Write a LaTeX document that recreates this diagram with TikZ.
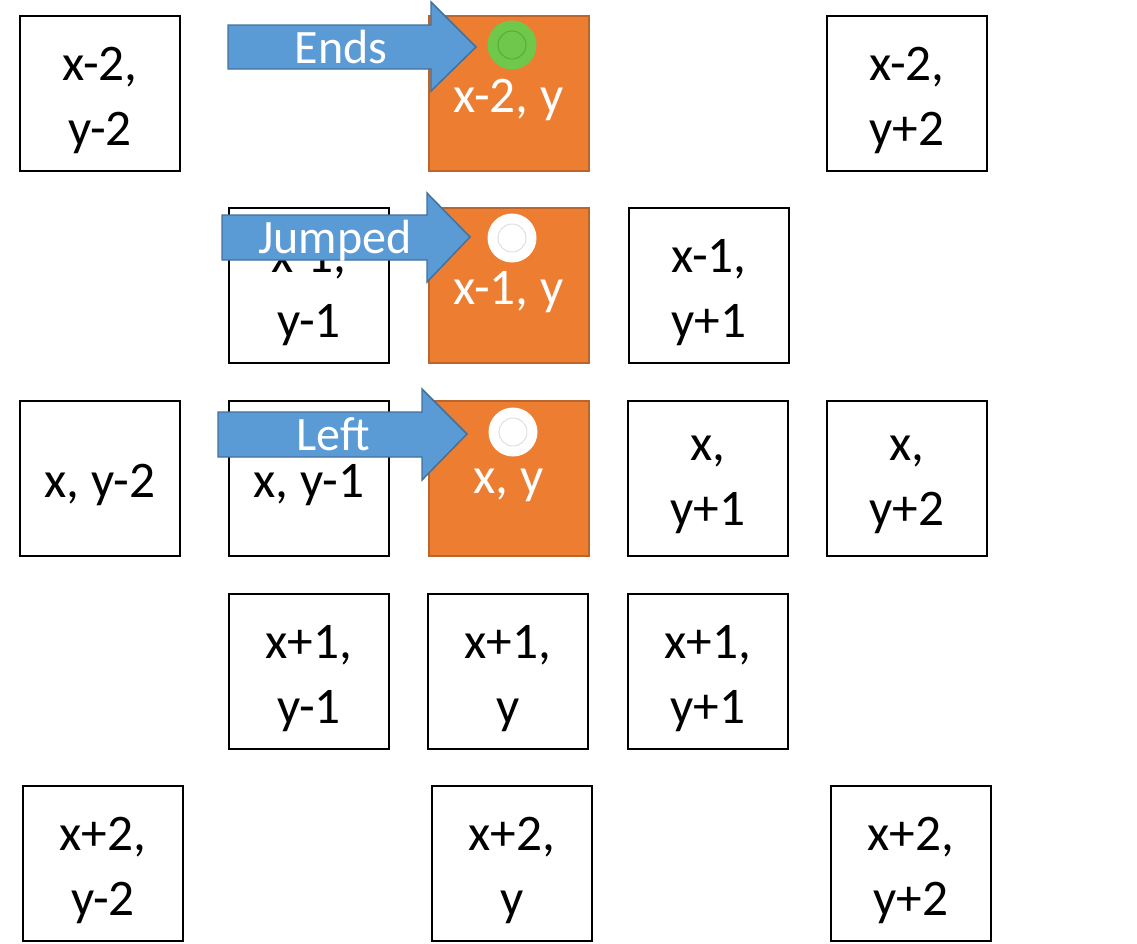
\documentclass[tikz,border=0pt]{standalone}
\usepackage{fontspec}
\setmainfont{Carlito}
\definecolor{orangefill}{HTML}{ED7D31}
\definecolor{orangeedge}{HTML}{B9652B}
\definecolor{bluefill}{HTML}{5B9BD5}
\definecolor{blueedge}{HTML}{41719C}
\definecolor{greenfill}{HTML}{70C84B}
\definecolor{greenedge}{HTML}{58A83A}
\definecolor{ringgray}{HTML}{DDDDDD}
\begin{document}
\begin{tikzpicture}[x=0.75pt,y=-0.75pt,
  cell/.style={draw=black, line width=1.5pt, fill=white, minimum width=120pt, minimum height=116.25pt, inner sep=0pt},
  hotcell/.style={cell, draw=orangeedge, fill=orangefill},
  celltext/.style={inner sep=0pt, align=center, font=\fontsize{38.5}{48.75}\selectfont},
  hottext/.style={celltext, text=white},
  blockarrow/.style={draw=blueedge, fill=bluefill, line width=1.1pt, line join=miter},
  arrowtext/.style={inner sep=0pt, text=white, text depth=0pt, font=\fontsize{36}{40}\selectfont},
  dot/.style={circle, minimum size=36.75pt, inner sep=0pt},
  ring/.style={circle, minimum size=21pt, inner sep=0pt, line width=0.7pt}
]
\useasboundingbox (0,0) rectangle (1137,943);

% row 1
\node[cell] (a11) at (100,93.5) {};
\node[hotcell] (a13) at (508.5,93.5) {};
\node[cell] (a15) at (907,93.5) {};
% row 2
\node[cell] (a22) at (309,285.5) {};
\node[hotcell] (a23) at (508.5,285.5) {};
\node[cell] (a24) at (709,285.5) {};
% row 3
\node[cell] (a31) at (100,478.5) {};
\node[cell] (a32) at (309,478.5) {};
\node[hotcell] (a33) at (508.5,478.5) {};
\node[cell] (a34) at (708,478.5) {};
\node[cell] (a35) at (907,478.5) {};
% row 4
\node[cell] (a42) at (309,671.5) {};
\node[cell] (a43) at (508,671.5) {};
\node[cell] (a44) at (708,671.5) {};
% row 5
\node[cell] (a51) at (103,863.5) {};
\node[cell] (a53) at (512,863.5) {};
\node[cell] (a55) at (911,863.5) {};

% texts
\node[celltext] (t11) at ([yshift=-5pt]a11.center) {x-2,\\y-2};
\node[hottext]  (t13) at ([yshift=-5pt]a13.center) {x-2, y};
\node[celltext] (t15) at ([yshift=-5pt]a15.center) {x-2,\\y+2};
\node[celltext] (t22) at ([yshift=-5pt]a22.center) {x-1,\\y-1};
\node[hottext]  (t23) at ([yshift=-5pt]a23.center) {x-1, y};
\node[celltext] (t24) at ([yshift=-5pt]a24.center) {x-1,\\y+1};
\node[celltext] (t31) at ([yshift=-5pt]a31.center) {x, y-2};
\node[celltext] (t32) at ([yshift=-5pt]a32.center) {x, y-1};
\node[hottext]  (t33) at ([yshift=-5pt]a33.center) {x, y};
\node[celltext] (t34) at ([yshift=-5pt]a34.center) {x,\\y+1};
\node[celltext] (t35) at ([yshift=-5pt]a35.center) {x,\\y+2};
\node[celltext] (t42) at ([yshift=-5pt]a42.center) {x+1,\\y-1};
\node[celltext] (t43) at ([yshift=-5pt]a43.center) {x+1,\\y};
\node[celltext] (t44) at ([yshift=-5pt]a44.center) {x+1,\\y+1};
\node[celltext] (t51) at ([yshift=-5pt]a51.center) {x+2,\\y-2};
\node[celltext] (t53) at ([yshift=-5pt]a53.center) {x+2,\\y};
\node[celltext] (t55) at ([yshift=-5pt]a55.center) {x+2,\\y+2};

% markers
\node[dot, fill=greenfill] (g1) at (512,45) {};
\node[ring, draw=greenedge] (g1r) at (g1.center) {};
\node[dot, fill=white] (w2) at (512,238) {};
\node[ring, draw=ringgray] (w2r) at (w2.center) {};
\node[dot, fill=white] (w3) at (513,432) {};
\node[ring, draw=ringgray] (w3r) at (w3.center) {};

% block arrows
\draw[blockarrow] (228,25) -- (431,25) -- (431,2) -- (476,47) -- (431,91) -- (431,69) -- (228,69) -- cycle;
\draw[blockarrow] (222,215) -- (427,215) -- (427,193) -- (470,237) -- (427,282) -- (427,260) -- (222,260) -- cycle;
\draw[blockarrow] (218,412) -- (422,412) -- (422,389) -- (467,434) -- (422,480) -- (422,457) -- (218,457) -- cycle;
\node[arrowtext] (l1) at (341,47) {Ends};
\node[arrowtext] (l2) at (335,237) {Jumped};
\node[arrowtext] (l3) at (333,434) {Left};
\end{tikzpicture}
\end{document}
